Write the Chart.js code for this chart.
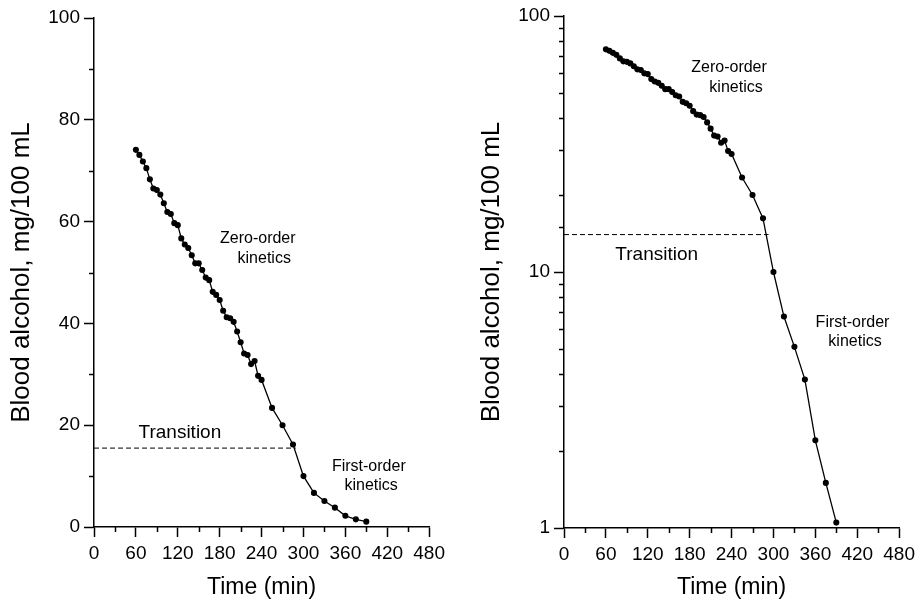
<!DOCTYPE html>
<html>
<head>
<meta charset="utf-8">
<script src="https://cdn.jsdelivr.net/npm/chart.js@4.4.1/dist/chart.umd.min.js"></script>
<style>
  html, body { margin: 0; padding: 0; background: #fff; }
  .box { position: absolute; top: 0; width: 450px; height: 601px; }
  #leftBox { left: 0; }
  #rightBox { left: 470px; }
</style>
</head>
<body>
<div class="box" id="leftBox"><canvas id="linChart"></canvas></div>
<div class="box" id="rightBox"><canvas id="logChart"></canvas></div>
<script>
// time after drinking (min)
const TIMES = [60, 65, 70, 75, 80, 85, 90, 95, 100, 105, 110, 115, 120, 125, 130, 135,
  140, 145, 150, 155, 160, 165, 170, 175, 180, 185, 190, 195, 200, 205, 210, 215,
  220, 225, 230, 235, 240, 255, 270, 285, 300, 315, 330, 345, 360, 375, 390];
// blood alcohol (mg/100 mL)
const ALCOHOL = [74.1, 73.1, 71.8, 70.5, 68.3, 66.5, 66.2, 65.3, 63.6, 61.9, 61.5, 59.7,
  59.3, 56.7, 55.5, 54.8, 53.4, 51.8, 51.8, 50.5, 49.0, 48.5, 46.2, 45.6, 44.6, 42.5,
  41.2, 41.0, 40.3, 38.4, 36.3, 34.1, 33.8, 32.0, 32.6, 29.7, 28.9, 23.4, 20.0, 16.2,
  10.0, 6.7, 5.1, 3.8, 2.2, 1.5, 1.05];

const X_TICKS = [0, 60, 120, 180, 240, 300, 360, 420, 480];
const LIN_TICKS = [0, 20, 40, 60, 80, 100];
const LOG_TICKS = [1, 10, 100];

// dashed "transition" level: [level, end time]
const LIN_TRANSITION = [15.5, 289];
const LOG_TRANSITION = [14.0, 293];

const FONT = "'Liberation Sans', Arial, sans-serif";

// text notes placed in data coordinates
const LIN_NOTES = [
  { text: "Zero-order", x: 234.6, y: 56.6, size: 16 },
  { text: "kinetics", x: 243.8, y: 52.8, size: 16 },
  { text: "Transition", x: 123, y: 18.5, size: 19 },
  { text: "First-order", x: 393.6, y: 11.8, size: 16 },
  { text: "kinetics", x: 397, y: 8.05, size: 16 }
];
const LOG_NOTES = [
  { text: "Zero-order", x: 236.4, y: 62.6, size: 16 },
  { text: "kinetics", x: 246.4, y: 52.7, size: 16 },
  { text: "Transition", x: 132.8, y: 11.7, size: 19 },
  { text: "First-order", x: 413.2, y: 6.34, size: 16 },
  { text: "kinetics", x: 416.8, y: 5.35, size: 16 }
];

// draws the short minor ticks and the text notes
const extrasPlugin = {
  id: "extras",
  afterDraw(chart, args, opts) {
    const ctx = chart.ctx;
    const xs = chart.scales.x, ys = chart.scales.y;
    ctx.save();
    ctx.strokeStyle = "#000";
    ctx.lineWidth = 1.5;
    xs.ticks.forEach(t => {
      if (X_TICKS.includes(t.value)) return;
      const px = Math.round(xs.getPixelForValue(t.value)) + 0.5;
      ctx.beginPath();
      ctx.moveTo(px, xs.top);
      ctx.lineTo(px, xs.top + 5);
      ctx.stroke();
    });
    ys.ticks.forEach(t => {
      if (opts.major.includes(t.value)) return;
      const py = Math.round(ys.getPixelForValue(t.value)) + 0.5;
      ctx.beginPath();
      ctx.moveTo(ys.right, py);
      ctx.lineTo(ys.right - 5, py);
      ctx.stroke();
    });
    ctx.fillStyle = "#000";
    ctx.textAlign = "center";
    ctx.textBaseline = "middle";
    opts.notes.forEach(n => {
      ctx.font = n.size + "px " + FONT;
      ctx.fillText(n.text, xs.getPixelForValue(n.x), ys.getPixelForValue(n.y));
    });
    ctx.restore();
  }
};

function makeChart(id, yType, yMin, yMax, majorTicks, transition, notes, top, bottom) {
  const yOpts = {
    type: yType,
    min: yMin,
    max: yMax,
    afterFit: s => { s.width = 94; },
    border: { display: true, color: "#000", width: 1.5 },
    grid: {
      drawOnChartArea: false,
      drawTicks: true,
      tickLength: 10,
      tickWidth: 1.5,
      tickColor: c => majorTicks.includes(c.tick.value) ? "#000" : "rgba(0,0,0,0)"
    },
    ticks: {
      autoSkip: false,
      color: "#000",
      padding: 4,
      font: { family: FONT, size: 19 },
      callback: v => majorTicks.includes(v) ? String(v) : ""
    },
    title: {
      display: true,
      text: "Blood alcohol, mg/100 mL",
      color: "#000",
      font: { family: FONT, size: 26 },
      padding: { top: 6 }
    }
  };
  if (yType === "linear") yOpts.ticks.stepSize = 10;

  return new Chart(document.getElementById(id), {
    type: "line",
    data: {
      datasets: [
        {
          data: TIMES.map((t, i) => ({ x: t, y: ALCOHOL[i] })),
          borderColor: "#000",
          backgroundColor: "#000",
          borderWidth: 1.3,
          pointRadius: 2.4,
          pointHoverRadius: 2.4,
          tension: 0
        },
        {
          data: [{ x: 0, y: transition[0] }, { x: transition[1], y: transition[0] }],
          borderColor: "#000",
          borderWidth: 1,
          borderDash: [5, 3],
          pointRadius: 0,
          tension: 0
        }
      ]
    },
    options: {
      responsive: true,
      maintainAspectRatio: false,
      animation: false,
      layout: { padding: { top: top, right: 18, left: 0, bottom: 0 } },
      plugins: {
        legend: { display: false },
        tooltip: { enabled: false },
        extras: { notes: notes, major: majorTicks }
      },
      scales: {
        x: {
          type: "linear",
          min: 0,
          max: 480,
          afterFit: s => { s.height = 601 - bottom; },
          border: { display: true, color: "#000", width: 1.5 },
          grid: {
            drawOnChartArea: false,
            drawTicks: true,
            tickLength: 10,
            tickWidth: 1.5,
            tickColor: c => X_TICKS.includes(c.tick.value) ? "#000" : "rgba(0,0,0,0)"
          },
          ticks: {
            stepSize: 30,
            autoSkip: false,
            maxRotation: 0,
            color: "#000",
            padding: 5,
            font: { family: FONT, size: 19 },
            callback: v => X_TICKS.includes(v) ? String(v) : ""
          },
          title: {
            display: true,
            text: "Time (min)",
            color: "#000",
            font: { family: FONT, size: 23 },
            padding: { top: 0, bottom: 0 }
          }
        },
        y: yOpts
      }
    },
    plugins: [extrasPlugin]
  });
}

makeChart("linChart", "linear", 0, 100, LIN_TICKS, LIN_TRANSITION, LIN_NOTES, 18, 527);
makeChart("logChart", "logarithmic", 1, 100, LOG_TICKS, LOG_TRANSITION, LOG_NOTES, 16, 528);
</script>
</body>
</html>
